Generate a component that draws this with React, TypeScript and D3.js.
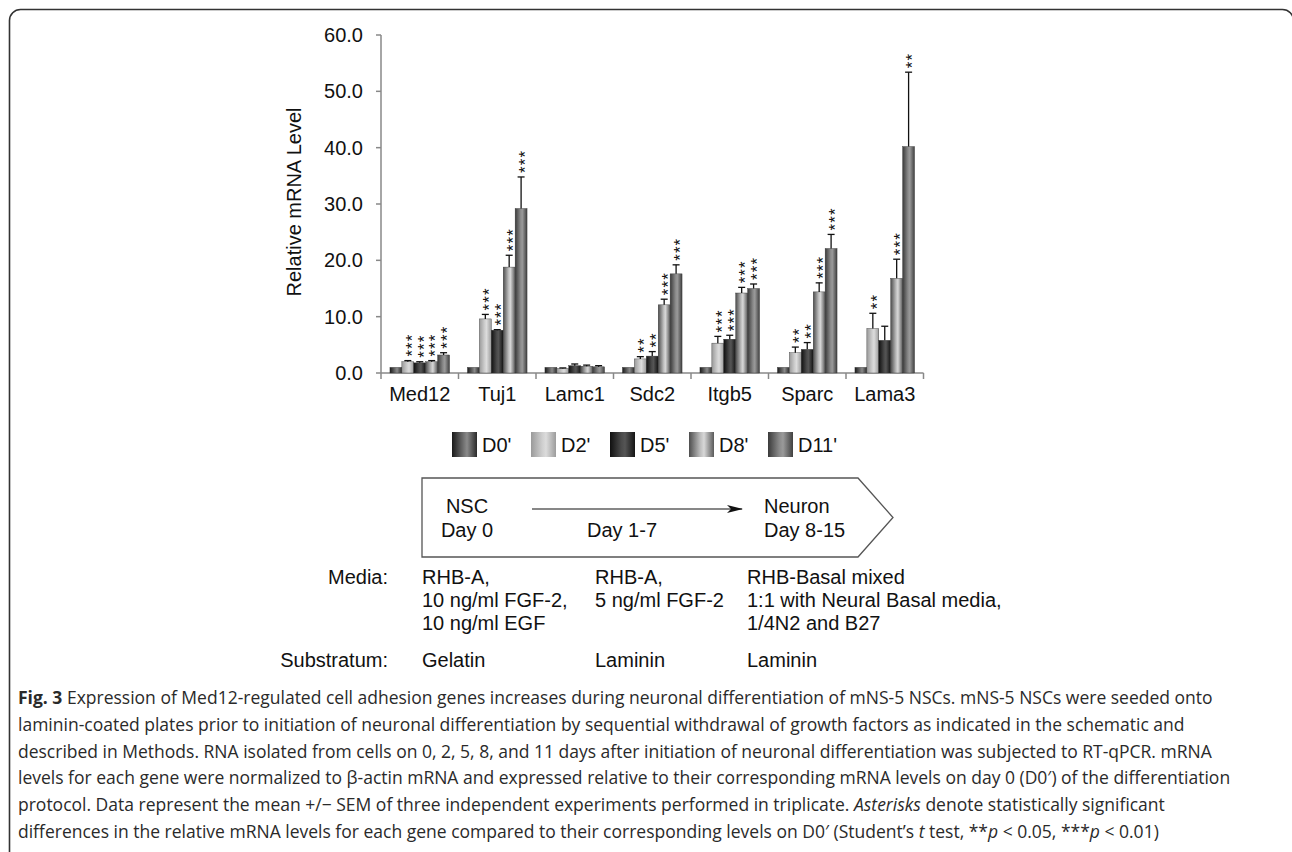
import React from 'react';
import * as d3 from 'd3';

const genes = ['Med12', 'Tuj1', 'Lamc1', 'Sdc2', 'Itgb5', 'Sparc', 'Lama3'];
const series = ["D0'", "D2'", "D5'", "D8'", "D11'"];

// mean relative mRNA level, one array per day
const d0 = [1.0, 1.0, 1.0, 1.0, 1.0, 1.0, 1.0];
const d2 = [2.0, 9.6, 0.8, 2.5, 5.3, 3.6, 7.9];
const d5 = [1.8, 7.6, 1.3, 3.0, 6.0, 4.2, 5.8];
const d8 = [2.0, 18.8, 1.2, 12.1, 14.2, 14.4, 16.8];
const d11 = [3.2, 29.2, 1.1, 17.6, 15.0, 22.1, 40.2];

// SEM
const e0 = [0.05, 0.05, 0.05, 0.05, 0.05, 0.05, 0.05];
const e2 = [0.2, 0.8, 0.1, 0.4, 1.2, 1.0, 2.7];
const e5 = [0.2, 0.1, 0.3, 0.8, 0.7, 1.2, 2.5];
const e8 = [0.2, 2.1, 0.2, 1.0, 1.0, 1.6, 3.4];
const e11 = [0.4, 5.6, 0.2, 1.6, 0.8, 2.5, 13.2];

// significance marks
const s0 = ['', '', '', '', '', '', ''];
const s2 = ['***', '***', '', '**', '***', '**', '**'];
const s5 = ['***', '***', '', '**', '***', '**', ''];
const s8 = ['***', '***', '', '***', '***', '***', '***'];
const s11 = ['***', '***', '', '***', '***', '***', '**'];

const yTicks = [0, 10, 20, 30, 40, 50, 60];

const means = [d0, d2, d5, d8, d11];
const sems = [e0, e2, e5, e8, e11];
const sigs = [s0, s2, s5, s8, s11];

// cylinder-like shading for each day
const shades = [
  ['#1a1a1a', '#6f6f6f', '#8a8a8a', '#2a2a2a'],
  ['#9a9a9a', '#cfcfcf', '#dcdcdc', '#9c9c9c'],
  ['#101010', '#4a4a4a', '#555555', '#141414'],
  ['#4d4d4d', '#bdbdbd', '#d8d8d8', '#5a5a5a'],
  ['#3a3a3a', '#8a8a8a', '#9a9a9a', '#404040'],
];

const mediaRows = [
  ['RHB-A,', 'RHB-A,', 'RHB-Basal mixed'],
  ['10 ng/ml FGF-2,', '5 ng/ml FGF-2', '1:1 with Neural Basal media,'],
  ['10 ng/ml EGF', '', '1/4N2 and B27'],
];
const substratum = ['Gelatin', 'Laminin', 'Laminin'];

const font = 'Liberation Sans, Arial, Helvetica, sans-serif';
const capFont = 'Open Sans, Noto Sans, sans-serif';

export default function App() {
  const y = d3.scaleLinear().domain([0, 60]).range([373, 35]);
  const x = d3.scaleBand().domain(genes).range([381, 923.5]).paddingInner(0).paddingOuter(0);
  const xs = d3
    .scaleBand()
    .domain(series)
    .range([0, x.bandwidth()])
    .paddingInner(0)
    .paddingOuter(0.75);
  const legendX = d3.scalePoint().domain(series).range([452, 768]);
  const fmt = d3.format('.1f');
  const colX = [422, 595, 747];

  const bars = [];
  genes.forEach((g, gi) => {
    series.forEach((s, si) => {
      const v = means[si][gi];
      const e = sems[si][gi];
      const bx = x(g) + xs(s);
      const bw = xs.bandwidth();
      const cx = bx + bw / 2;
      const top = y(v + e);
      const stars = sigs[si][gi];
      bars.push(
        <g key={g + s}>
          <rect x={bx} y={y(v)} width={bw} height={y(0) - y(v)} fill={`url(#grad${si})`} stroke="#333" strokeWidth={0.4} />
          {e > 0.08 && (
            <g stroke="#111" strokeWidth={1.3}>
              <line x1={cx} x2={cx} y1={y(v)} y2={top} />
              <line x1={cx - 3.5} x2={cx + 3.5} y1={top} y2={top} />
            </g>
          )}
          {stars && (
            // stars stacked upward: one rotated run of asterisks
            <text
              transform={`translate(${cx + 9.8},${top - 4}) rotate(-90)`}
              fontSize={17}
              letterSpacing={1.1}
              fontFamily={font}
              fill="#111"
            >
              {stars}
            </text>
          )}
        </g>
      );
    });
  });

  const captionLines = [
    [{ t: 'Fig. 3', b: true }, { t: ' Expression of Med12-regulated cell adhesion genes increases during neuronal differentiation of mNS-5 NSCs. mNS-5 NSCs were seeded onto' }],
    [{ t: 'laminin-coated plates prior to initiation of neuronal differentiation by sequential withdrawal of growth factors as indicated in the schematic and' }],
    [{ t: 'described in Methods. RNA isolated from cells on 0, 2, 5, 8, and 11 days after initiation of neuronal differentiation was subjected to RT-qPCR. mRNA' }],
    [{ t: 'levels for each gene were normalized to β-actin mRNA and expressed relative to their corresponding mRNA levels on day 0 (D0′) of the differentiation' }],
    [{ t: 'protocol. Data represent the mean +/− SEM of three independent experiments performed in triplicate. ' }, { t: 'Asterisks', i: true }, { t: ' denote statistically significant' }],
    [{ t: 'differences in the relative mRNA levels for each gene compared to their corresponding levels on D0′ (Student’s ' }, { t: 't', i: true }, { t: ' test, **' }, { t: 'p', i: true }, { t: ' < 0.05, ***' }, { t: 'p', i: true }, { t: ' < 0.01)' }],
  ];

  return (
    <svg width={1292} height={852} style={{ position: 'absolute', left: 0, top: 0, background: '#fff' }}>
      <defs>
        {shades.map((c, i) => (
          <linearGradient key={i} id={`grad${i}`} x1="0" x2="1" y1="0" y2="0">
            <stop offset="0%" stopColor={c[0]} />
            <stop offset="45%" stopColor={c[1]} />
            <stop offset="60%" stopColor={c[2]} />
            <stop offset="100%" stopColor={c[3]} />
          </linearGradient>
        ))}
        <marker id="arrow" viewBox="0 0 16 8" refX="15" refY="4" markerWidth="16" markerHeight="8" markerUnits="userSpaceOnUse" orient="auto">
          <path d="M0,0 L16,4 L0,8 L4,4 Z" fill="#111" />
        </marker>
      </defs>

      <rect x={9.5} y={9.5} width={1284} height={900} rx={11} fill="none" stroke="#333" strokeWidth={1.6} />

      {/* axes */}
      <g stroke="#888" strokeWidth={1.5}>
        <line x1={381} x2={381} y1={y(60)} y2={y(0) + 6} />
        {yTicks.map((t) => (
          <line key={t} x1={376} x2={381} y1={y(t)} y2={y(t)} />
        ))}
        <line x1={381} x2={923.5} y1={y(0)} y2={y(0)} />
        {genes.map((g) => (
          <line key={g} x1={x(g) + x.step()} x2={x(g) + x.step()} y1={y(0)} y2={y(0) + 6} />
        ))}
      </g>
      {yTicks.map((t) => (
        <text key={t} x={363} y={y(t) + 7} textAnchor="end" fontSize={20} fontFamily={font} fill="#111">
          {fmt(t)}
        </text>
      ))}
      <text transform={`translate(301,${(y(0) + y(60)) / 2 - 2}) rotate(-90)`} textAnchor="middle" fontSize={20} fontFamily={font} fill="#111">
        Relative mRNA Level
      </text>

      {bars}

      {genes.map((g) => (
        <text key={g} x={x(g) + x.bandwidth() / 2} y={401} textAnchor="middle" fontSize={20} fontFamily={font} fill="#111">
          {g}
        </text>
      ))}

      {/* legend */}
      {series.map((s, si) => (
        <g key={s}>
          <rect x={legendX(s)} y={432} width={25} height={25} fill={`url(#grad${si})`} />
          <text x={legendX(s) + 30} y={452} fontSize={20} fontFamily={font} fill="#111">
            {s}
          </text>
        </g>
      ))}

      {/* schematic */}
      <polygon points="422,478 858,478 893,517.5 858,557 422,557" fill="none" stroke="#555" strokeWidth={1.3} />
      <line x1={532} x2={742} y1={509} y2={509} stroke="#111" strokeWidth={1.2} markerEnd="url(#arrow)" />
      <g fontSize={20} fontFamily={font} fill="#111">
        <text x={467} y={513} textAnchor="middle">NSC</text>
        <text x={467} y={537} textAnchor="middle">Day 0</text>
        <text x={622} y={537} textAnchor="middle">Day 1-7</text>
        <text x={764} y={513}>Neuron</text>
        <text x={764} y={537}>Day 8-15</text>

        <text x={388} y={584} textAnchor="end">Media:</text>
        {mediaRows.map((row, ri) =>
          row.map((t, ci) => (
            <text key={ri + '-' + ci} x={colX[ci]} y={584 + ri * 23}>
              {t}
            </text>
          ))
        )}
        <text x={388} y={667} textAnchor="end">Substratum:</text>
        {substratum.map((t, ci) => (
          <text key={ci} x={colX[ci]} y={667}>
            {t}
          </text>
        ))}
      </g>

      {/* caption */}
      {captionLines.map((parts, li) => (
        <text key={li} x={18} y={704 + li * 26.8} fontSize={17.5} fontFamily={capFont} fill="#2a2a2a">
          {parts.map((p, pi) => (
            <tspan key={pi} fontWeight={p.b ? 'bold' : 'normal'} fontStyle={p.i ? 'italic' : 'normal'}>
              {p.t}
            </tspan>
          ))}
        </text>
      ))}
    </svg>
  );
}
